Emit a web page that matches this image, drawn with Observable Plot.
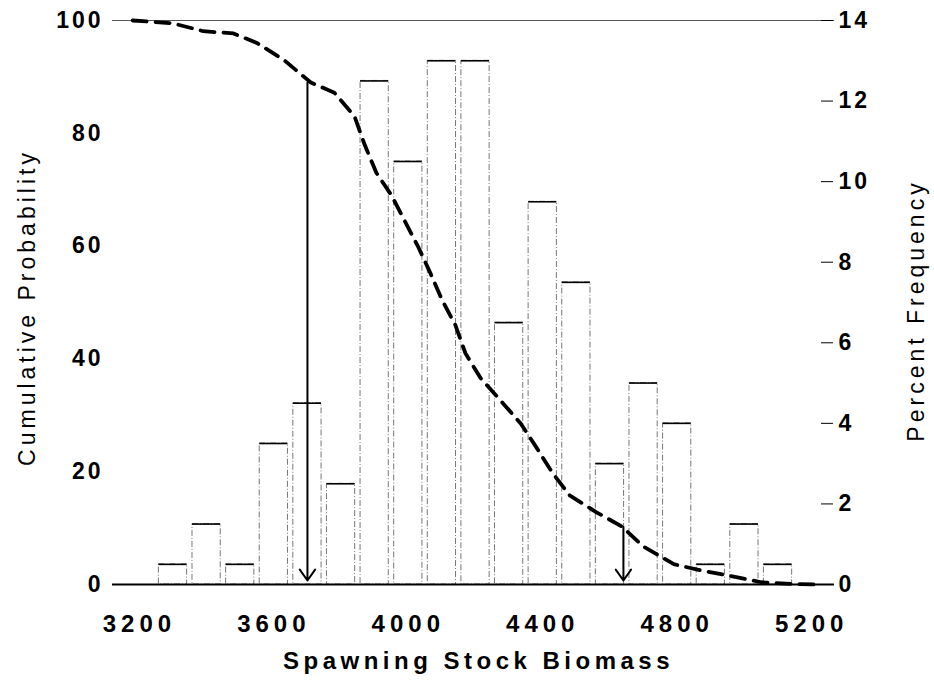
<!DOCTYPE html>
<html>
<head>
<meta charset="utf-8">
<script src="https://cdn.jsdelivr.net/npm/d3@7"></script>
<script src="https://cdn.jsdelivr.net/npm/@observablehq/plot@0.6"></script>
<style>
  html, body { margin: 0; padding: 0; background: white; }
  #chart svg { display: block; }
  g[aria-label="x-axis tick label"] text { font-weight: bold; letter-spacing: 5px; }
  g[aria-label="y-axis tick label"] text { font-weight: bold; letter-spacing: 3px; }
  g.title-x text { font-weight: bold; letter-spacing: 4.5px; }
  g.title-y text { letter-spacing: 4px; }
</style>
</head>
<body>
<div id="chart"></div>
<script>
// ---- data ----
const binCenters = [3300, 3400, 3500, 3600, 3700, 3800, 3900, 4000, 4100, 4200,
                    4300, 4400, 4500, 4600, 4700, 4800, 4900, 5000, 5100];
const percentFrequency = [0.5, 1.5, 0.5, 3.5, 4.5, 2.5, 12.5, 10.5, 13, 13,
                          6.5, 9.5, 7.5, 3.0, 5.0, 4.0, 0.5, 1.5, 0.5];
const binHalfWidth = 42;

const cumBiomass = [3180, 3300, 3390, 3480, 3550, 3630, 3710, 3780, 3840, 3870,
                    3905, 3950, 3990, 4030, 4065, 4100, 4140, 4170, 4215, 4275,
                    4335, 4380, 4430, 4480, 4560, 4635, 4700, 4790, 4870, 4960,
                    5050, 5140, 5220];
const cumProbability = [100, 99.5, 98.1, 97.7, 96, 93, 89, 87.2, 83, 78,
                        73, 69, 64.4, 59.8, 55.3, 50.5, 46, 41, 36.6, 32.6,
                        28.5, 24.4, 19.7, 15.8, 12.8, 10.3, 6.7, 3.6, 2.5, 1.5,
                        0.4, 0.1, 0];

const arrowBiomass = [3700, 4640];
const arrowProbability = [89, 10.2];

const xTicks = [3200, 3600, 4000, 4400, 4800, 5200];
const leftTicks = [0, 20, 40, 60, 80, 100];
const rightTicks = [0, 2, 4, 6, 8, 10, 12, 14];
const rightMax = 14;

const xTitle = "Spawning Stock Biomass";
const leftTitle = "Cumulative Probability";
const rightTitle = "Percent Frequency";

// ---- tables built from the arrays ----
const toLeft = v => v * 100 / rightMax;
const bars = binCenters.map((c, i) => ({c, f: percentFrequency[i]}));
const cum = cumBiomass.map((x, i) => ({x, y: cumProbability[i]}));
const arrows = arrowBiomass.map((x, i) => ({x, y: arrowProbability[i]}));

const chart = Plot.plot({
  width: 934,
  height: 689,
  marginTop: 20,
  marginBottom: 105,
  marginLeft: 112,
  marginRight: 100,
  style: {fontFamily: "'Liberation Sans', Arial, sans-serif", fontSize: "23px", background: "white", color: "black"},
  x: {domain: [3120, 5268]},
  y: {domain: [0, 100]},
  marks: [
    Plot.ruleY([100], {stroke: "#555", strokeWidth: 1}),
    Plot.rect(bars, {
      x1: d => d.c - binHalfWidth, x2: d => d.c + binHalfWidth,
      y1: 0, y2: d => toLeft(d.f),
      fill: "white", stroke: "#777", strokeWidth: 1, strokeDasharray: "6,2,1,2"
    }),
    Plot.ruleY(bars, {
      x1: d => d.c - binHalfWidth, x2: d => d.c + binHalfWidth,
      y: d => toLeft(d.f), stroke: "black", strokeWidth: 1.6
    }),
    Plot.ruleY([0], {stroke: "black", strokeWidth: 2}),
    Plot.arrow(arrows, {
      x1: "x", x2: "x", y1: "y", y2: () => 0, insetEnd: 4,
      stroke: "black", strokeWidth: 2, headLength: 10, headAngle: 70
    }),
    Plot.line(cum, {x: "x", y: "y", stroke: "black", strokeWidth: 3.8, strokeDasharray: "14,9"}),
    Plot.axisX(xTicks, {
      tickSize: 0, tickPadding: 30, tickFormat: d => String(d), fontSize: 24, label: null
    }),
    Plot.axisY(leftTicks, {
      anchor: "left", tickSize: 0, tickPadding: 9, fontSize: 23, label: null
    }),
    Plot.axisY(rightTicks.map(toLeft), {
      anchor: "right", tickSize: 12, tickPadding: 6, dx: -14, fontSize: 23,
      tickFormat: d => String(Math.round(d * rightMax / 100)), label: null
    }),
    Plot.text([xTitle], {frameAnchor: "bottom", textAnchor: "middle", lineAnchor: "middle",
      dx: 5, dy: 77, fontSize: 24, className: "title-x"}),
    Plot.text([leftTitle], {frameAnchor: "left", textAnchor: "middle", lineAnchor: "middle",
      rotate: -90, dx: -85, dy: 5, fontSize: 23, className: "title-y"}),
    Plot.text([rightTitle], {frameAnchor: "right", textAnchor: "middle", lineAnchor: "middle",
      rotate: -90, dx: 82, dy: 8, fontSize: 23, className: "title-y"})
  ]
});
document.getElementById("chart").appendChild(chart);
</script>
</body>
</html>
